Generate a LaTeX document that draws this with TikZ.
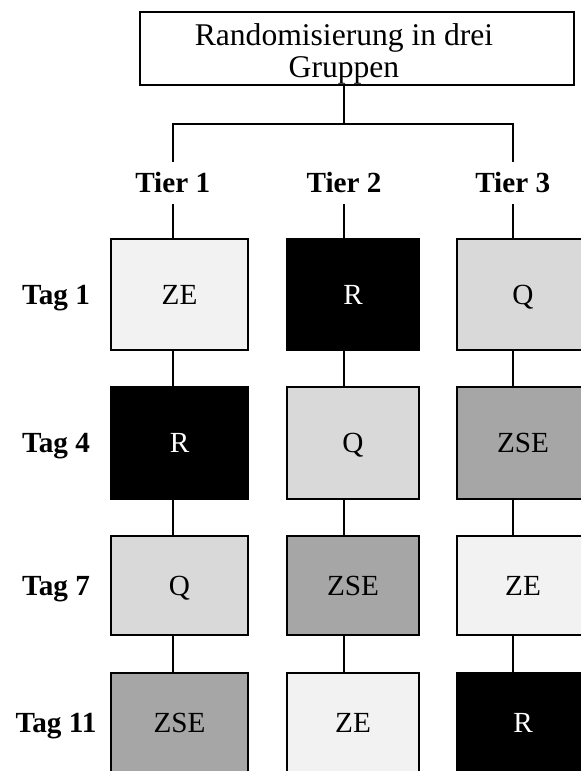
\documentclass[tikz,border=0pt]{standalone}
\usepackage{fontspec}
\setmainfont{Liberation Serif}
\usepackage{tikz}

\definecolor{zegray}{HTML}{F2F2F2}
\definecolor{qgray}{HTML}{D9D9D9}
\definecolor{zsegray}{HTML}{A6A6A6}

\tikzset{
  cell/.style={draw,rectangle,line width=1pt,inner sep=0pt,
    font=\fontsize{14.6}{17}\selectfont,text height=0.95em,text depth=0pt},
  zebox/.style={cell,fill=zegray},
  qbox/.style={cell,fill=qgray},
  zsebox/.style={cell,fill=zsegray},
  rbox/.style={cell,fill=black,text=white},
  colwide/.style={minimum width=68.5pt},
  colnarrow/.style={minimum width=66pt},
  rowtall/.style={minimum height=55.75pt},
  rowshort/.style={minimum height=49.75pt},
  lbl/.style={font=\fontsize{14.6}{17}\selectfont\bfseries,inner sep=0pt,
    text height=0.95em,text depth=0pt},
  link/.style={line width=0.9pt}
}

\begin{document}
\begin{tikzpicture}[x=0.5pt,y=-0.5pt]
\useasboundingbox (0,0) rectangle (580,771);

\node [draw,rectangle,line width=1pt,minimum width=217pt,minimum height=36.5pt] (randbox) at(356.5,48.3){};
\node [align=center,inner sep=0pt,font=\fontsize{15.8}{16}\selectfont] (randtext) at(344,53.5){Randomisierung in drei\\Gruppen};

\coordinate (split) at(344,124);
\node [lbl,minimum height=21pt] (tier1) at(172.7,183){Tier 1};
\node [lbl,minimum height=21pt] (tier2) at(344,183){Tier 2};
\node [lbl,minimum height=21pt] (tier3) at(512.7,183){Tier 3};

\node [lbl] (tag1) at(56,294.5){Tag 1};
\node [lbl] (tag4) at(56,443){Tag 4};
\node [lbl] (tag7) at(56,585.5){Tag 7};
\node [lbl] (tag11) at(56,723){Tag 11};

% Tier 1
\node [zebox,colwide,rowtall] (t1d1) at(179.5,294.5){ZE};
\node [rbox,colwide,rowtall] (t1d4) at(179.5,443){R};
\node [qbox,colwide,rowshort] (t1d7) at(179.5,585.5){Q};
\node [zsebox,colwide,rowshort] (t1d11) at(179.5,723){ZSE};

% Tier 2
\node [rbox,colnarrow,rowtall] (t2d1) at(353,294.5){R};
\node [qbox,colnarrow,rowtall] (t2d4) at(353,443){Q};
\node [zsebox,colnarrow,rowshort] (t2d7) at(353,585.5){ZSE};
\node [zebox,colnarrow,rowshort] (t2d11) at(353,723){ZE};

% Tier 3
\node [qbox,colnarrow,rowtall] (t3d1) at(523,294.5){Q};
\node [zsebox,colnarrow,rowtall] (t3d4) at(523,443){ZSE};
\node [zebox,colnarrow,rowshort] (t3d7) at(523,585.5){ZE};
\node [rbox,colnarrow,rowshort] (t3d11) at(523,723){R};

\draw[link] (tier2 |- randbox.south) -- (split);
\draw[link] (tier1.north) |- (split) -| (tier3.north);

\draw[link] (tier1.south) -- (tier1 |- t1d1.north);
\draw[link] (tier1 |- t1d1.south) -- (tier1 |- t1d4.north);
\draw[link] (tier1 |- t1d4.south) -- (tier1 |- t1d7.north);
\draw[link] (tier1 |- t1d7.south) -- (tier1 |- t1d11.north);

\draw[link] (tier2.south) -- (tier2 |- t2d1.north);
\draw[link] (tier2 |- t2d1.south) -- (tier2 |- t2d4.north);
\draw[link] (tier2 |- t2d4.south) -- (tier2 |- t2d7.north);
\draw[link] (tier2 |- t2d7.south) -- (tier2 |- t2d11.north);

\draw[link] (tier3.south) -- (tier3 |- t3d1.north);
\draw[link] (tier3 |- t3d1.south) -- (tier3 |- t3d4.north);
\draw[link] (tier3 |- t3d4.south) -- (tier3 |- t3d7.north);
\draw[link] (tier3 |- t3d7.south) -- (tier3 |- t3d11.north);
\end{tikzpicture}
\end{document}
